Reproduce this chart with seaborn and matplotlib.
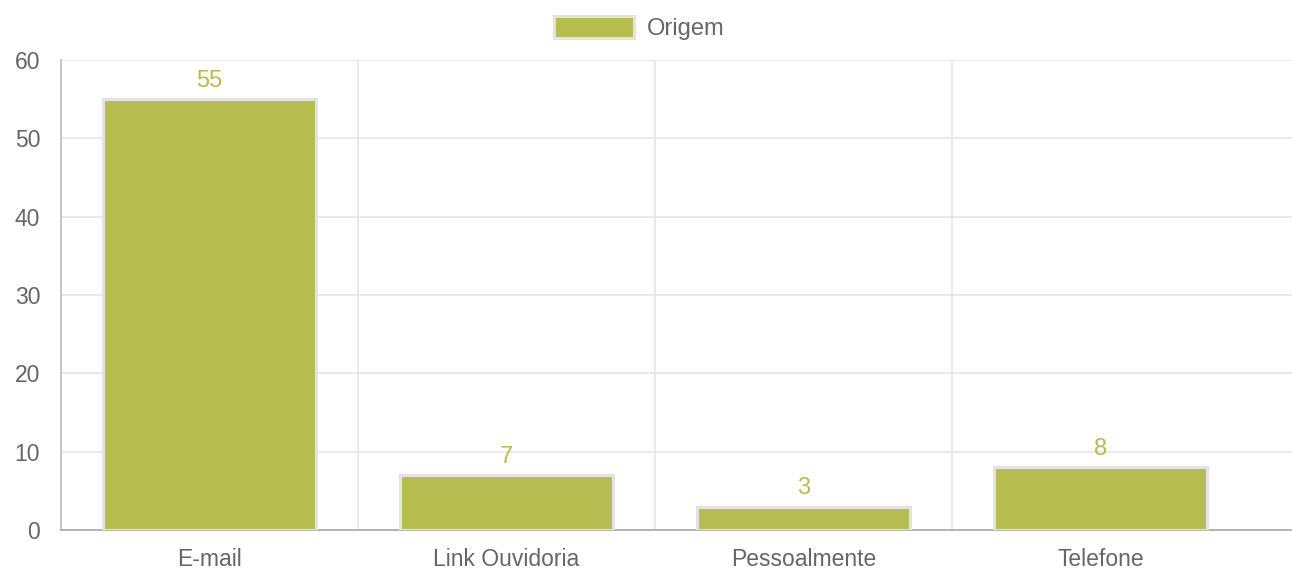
import matplotlib
matplotlib.use("Agg")
import matplotlib.pyplot as plt
import pandas as pd
import seaborn as sns
from matplotlib.patches import Patch
from matplotlib.ticker import FixedLocator

categories = ["E-mail", "Link Ouvidoria", "Pessoalmente", "Telefone"]
values = [55, 7, 3, 8]
series_name = "Origem"

bar_color = "#b5bd50"
edge_color = "#e3e3e3"
text_color = "#666666"
grid_color = "#e6e6e6"

sns.set_theme(style="white")
plt.rcParams["font.family"] = ["Liberation Sans", "DejaVu Sans"]

df = pd.DataFrame({"categoria": categories, "valor": values})

W, H = 1292, 569
left, top, bottom = 61, 60, 530
cat_px = 297  # width of one category slot in pixels

fig = plt.figure(figsize=(W / 100, H / 100), dpi=100)
ax = fig.add_axes([left / W, 1 - bottom / H, (W - left) / W, (bottom - top) / H])

sns.barplot(data=df, x="categoria", y="valor", color=bar_color, width=0.72,
            saturation=1, edgecolor=edge_color, linewidth=2.2, ax=ax, zorder=3)

# the source chart runs off the right edge of the picture
ax.set_xlim(-0.5, (W - left) / cat_px - 0.5)
ax.set_ylim(0, 60)
ax.set_yticks(range(0, 61, 10))
ax.set_xlabel("")
ax.set_ylabel("")

# category boundary gridlines, chart.js style
ax.xaxis.set_minor_locator(FixedLocator([i - 0.5 for i in range(len(categories))]))
ax.grid(True, which="minor", axis="x", color=grid_color, linewidth=1.2, zorder=0)
ax.grid(True, which="major", axis="y", color=grid_color, linewidth=1.2, zorder=0)
ax.tick_params(axis="x", which="major", length=0, pad=13, labelsize=16.5, labelcolor=text_color)
ax.tick_params(axis="x", which="minor", length=14, width=1.2, color="#dddddd", direction="out")
ax.tick_params(axis="y", length=14, width=1.2, color="#dddddd", pad=1, labelsize=16.5, labelcolor=text_color)

for side in ["top", "right"]:
    ax.spines[side].set_visible(False)
ax.spines["left"].set_color("#bdbdbd")
ax.spines["bottom"].set_color("#a8a8a8")
ax.spines["left"].set_linewidth(1.2)
ax.spines["bottom"].set_linewidth(1.2)

for i, v in enumerate(values):
    ax.annotate(str(v), (i, v), xytext=(0, 5.5), textcoords="offset points",
                ha="center", va="bottom", color=bar_color, fontsize=17)

handle = Patch(facecolor=bar_color, edgecolor=edge_color, linewidth=2.2)
fig.legend([handle], [series_name], loc="upper center", bbox_to_anchor=(0.495, 1.01),
           frameon=False, fontsize=17, handlelength=3.4, handleheight=1.1,
           labelcolor=text_color, handletextpad=0.55)

fig.savefig("out.png", dpi=100)
